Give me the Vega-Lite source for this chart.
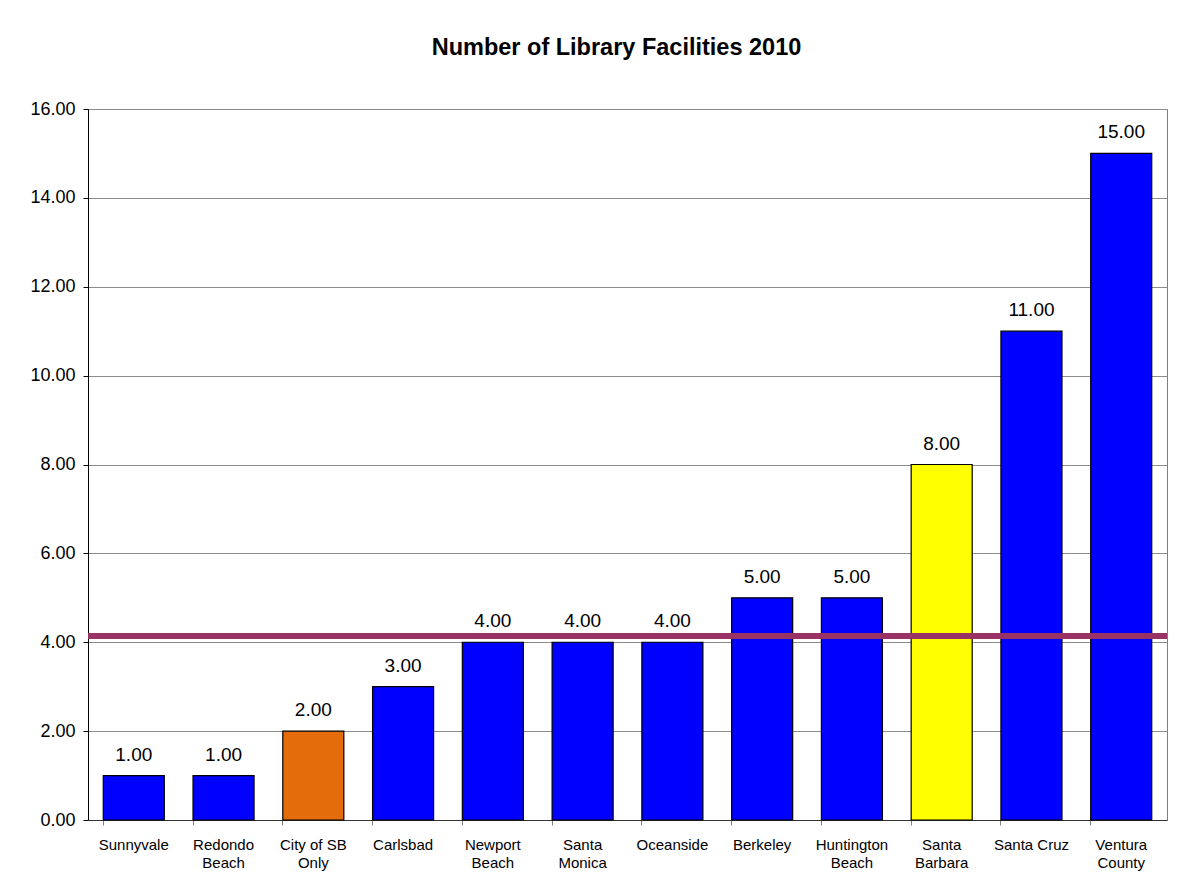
{
  "$schema": "https://vega.github.io/schema/vega-lite/v6.json",
  "autosize": "none",
  "width": 1079,
  "height": 711,
  "padding": {"left": 88, "top": 109, "right": 17, "bottom": 64},
  "background": "white",
  "config": {
    "font": "Liberation Sans",
    "view": {"stroke": "#808080", "strokeWidth": 1}
  },
  "title": {
    "text": "Number of Library Facilities 2010",
    "fontSize": 23.5,
    "fontWeight": "bold",
    "font": "Liberation Sans",
    "color": "black",
    "anchor": "middle",
    "offset": 41,
    "dx": -11
  },
  "datasets": {
    "bars": [
      {"city": "Sunnyvale", "facilities": 1, "group": "Other"},
      {"city": "Redondo Beach", "facilities": 1, "group": "Other"},
      {"city": "City of SB Only", "facilities": 2, "group": "City of SB"},
      {"city": "Carlsbad", "facilities": 3, "group": "Other"},
      {"city": "Newport Beach", "facilities": 4, "group": "Other"},
      {"city": "Santa Monica", "facilities": 4, "group": "Other"},
      {"city": "Oceanside", "facilities": 4, "group": "Other"},
      {"city": "Berkeley", "facilities": 5, "group": "Other"},
      {"city": "Huntington Beach", "facilities": 5, "group": "Other"},
      {"city": "Santa Barbara", "facilities": 8, "group": "Santa Barbara"},
      {"city": "Santa Cruz", "facilities": 11, "group": "Other"},
      {"city": "Ventura County", "facilities": 15, "group": "Other"}
    ],
    "avg": [{"average": 4.14}]
  },
  "layer": [
    {
      "data": {"name": "bars"},
      "mark": {"type": "bar", "stroke": "black", "strokeWidth": 1.2},
      "encoding": {
        "x": {
          "field": "city",
          "type": "nominal",
          "sort": null,
          "scale": {"paddingInner": 0.32, "paddingOuter": 0.17},
          "axis": {
            "title": null,
            "labelAngle": 0,
            "labelFontSize": 15,
            "labelColor": "black",
            "labelLineHeight": 18,
            "labelBaseline": "top",
            "labelPadding": 12,
            "labelLimit": 0,
            "tickSize": 5,
            "tickColor": "#808080",
            "bandPosition": 0,
            "domainColor": "#333333",
            "labelExpr": "datum.label == 'City of SB Only' ? ['City of SB', 'Only'] : datum.label == 'Santa Cruz' ? 'Santa Cruz' : split(datum.label, ' ')"
          }
        },
        "y": {
          "field": "facilities",
          "type": "quantitative",
          "scale": {"domain": [0, 16]},
          "axis": {
            "title": null,
            "values": [0, 2, 4, 6, 8, 10, 12, 14, 16],
            "format": ".2f",
            "labelFontSize": 18,
            "labelColor": "black",
            "labelPadding": 8,
            "tickSize": 5,
            "tickColor": "black",
            "domainColor": "black",
            "gridColor": "#8c8c8c",
            "gridWidth": 1
          }
        },
        "color": {
          "field": "group",
          "type": "nominal",
          "scale": {
            "domain": ["Other", "City of SB", "Santa Barbara"],
            "range": ["#0000FF", "#E46C0A", "#FFFF00"]
          },
          "legend": null
        }
      }
    },
    {
      "data": {"name": "bars"},
      "mark": {"type": "text", "baseline": "bottom", "dy": -11, "fontSize": 19, "color": "black"},
      "encoding": {
        "x": {"field": "city", "type": "nominal", "sort": null},
        "y": {"field": "facilities", "type": "quantitative"},
        "text": {"field": "facilities", "type": "quantitative", "format": ".2f"}
      }
    },
    {
      "data": {"name": "avg"},
      "mark": {"type": "rule", "color": "#993366", "strokeWidth": 6},
      "encoding": {
        "y": {"field": "average", "type": "quantitative"}
      }
    }
  ]
}
